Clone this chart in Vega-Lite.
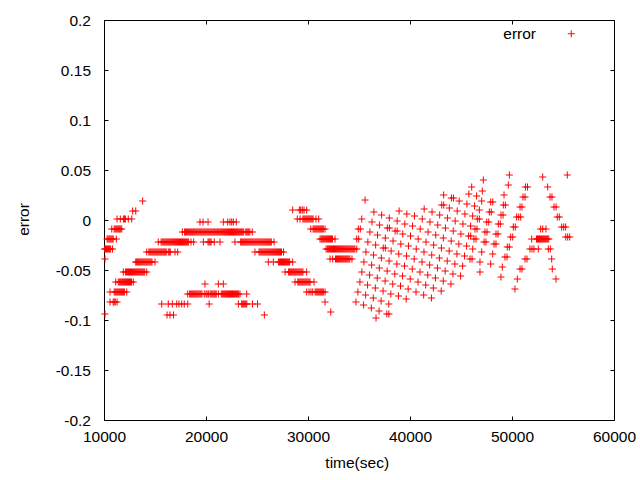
{
"$schema":"https://vega.github.io/schema/vega-lite/v6.json",
"width":510,"height":400,
"autosize":{"type":"none"},
"padding":{"left":104,"top":20,"right":26,"bottom":60},
"background":"#ffffff",
"config":{"view":{"stroke":"#000000","strokeWidth":1},
"axis":{"domain":false,"grid":false,"tickColor":"#000000","tickSize":-4,"labelColor":"#000000","titleColor":"#000000","labelFont":"Liberation Sans","labelFontSize":15.5,"titleFont":"Liberation Sans","titleFontSize":15.5,"titleFontWeight":"normal","labelFlush":false,"labelOverlap":false}},
"data":{"values":[
{"t":10050,"e":-0.029},{"t":10150,"e":-0.029},{"t":10250,"e":-0.029},{"t":10350,"e":-0.029},{"t":10450,"e":-0.029},{"t":10550,"e":-0.029},{"t":10650,"e":-0.029},{"t":10830,"e":-0.029},
{"t":10300,"e":-0.019},{"t":10400,"e":-0.019},{"t":10500,"e":-0.019},{"t":10600,"e":-0.019},{"t":10700,"e":-0.019},{"t":10800,"e":-0.019},{"t":10900,"e":-0.019},{"t":11210,"e":-0.019},
{"t":10760,"e":-0.009},{"t":11000,"e":-0.009},{"t":11100,"e":-0.009},{"t":11200,"e":-0.009},{"t":11300,"e":-0.009},{"t":11400,"e":-0.009},{"t":11500,"e":-0.009},{"t":11600,"e":-0.009},{"t":11740,"e":-0.009},
{"t":11280,"e":0.001},{"t":11600,"e":0.001},{"t":11900,"e":0.001},{"t":12000,"e":0.001},{"t":12100,"e":0.001},{"t":12380,"e":0.001},{"t":12720,"e":0.001},
{"t":12810,"e":0.009},{"t":13110,"e":0.009},{"t":13790,"e":0.019},{"t":10100,"e":-0.039},{"t":10100,"e":-0.094},
{"t":10590,"e":-0.082},{"t":10900,"e":-0.082},{"t":11000,"e":-0.082},{"t":11100,"e":-0.082},{"t":11280,"e":-0.082},
{"t":10590,"e":-0.072},{"t":11000,"e":-0.072},{"t":11100,"e":-0.072},{"t":11200,"e":-0.072},{"t":11300,"e":-0.072},{"t":11400,"e":-0.072},{"t":11500,"e":-0.072},{"t":11600,"e":-0.072},{"t":11700,"e":-0.072},{"t":11800,"e":-0.072},{"t":11900,"e":-0.072},{"t":12000,"e":-0.072},{"t":12230,"e":-0.072},
{"t":11150,"e":-0.062},{"t":11400,"e":-0.062},{"t":11500,"e":-0.062},{"t":11600,"e":-0.062},{"t":11700,"e":-0.062},{"t":11800,"e":-0.062},{"t":11900,"e":-0.062},{"t":12000,"e":-0.062},{"t":12100,"e":-0.062},{"t":12200,"e":-0.062},{"t":12300,"e":-0.062},{"t":12400,"e":-0.062},{"t":12500,"e":-0.062},{"t":12600,"e":-0.062},{"t":12700,"e":-0.062},{"t":12870,"e":-0.062},
{"t":11890,"e":-0.052},{"t":12100,"e":-0.052},{"t":12200,"e":-0.052},{"t":12300,"e":-0.052},{"t":12400,"e":-0.052},{"t":12500,"e":-0.052},{"t":12600,"e":-0.052},{"t":12700,"e":-0.052},{"t":12800,"e":-0.052},{"t":12900,"e":-0.052},{"t":13000,"e":-0.052},{"t":13100,"e":-0.052},{"t":13200,"e":-0.052},{"t":13300,"e":-0.052},{"t":13400,"e":-0.052},{"t":13500,"e":-0.052},{"t":13600,"e":-0.052},{"t":13700,"e":-0.052},{"t":13800,"e":-0.052},{"t":13900,"e":-0.052},{"t":14000,"e":-0.052},{"t":14190,"e":-0.052},
{"t":13110,"e":-0.042},{"t":13200,"e":-0.042},{"t":13300,"e":-0.042},{"t":13400,"e":-0.042},{"t":13500,"e":-0.042},{"t":13600,"e":-0.042},{"t":13700,"e":-0.042},{"t":13800,"e":-0.042},{"t":13900,"e":-0.042},{"t":14000,"e":-0.042},{"t":14100,"e":-0.042},{"t":14200,"e":-0.042},{"t":14300,"e":-0.042},{"t":14400,"e":-0.042},{"t":14500,"e":-0.042},{"t":14600,"e":-0.042},{"t":14700,"e":-0.042},{"t":15000,"e":-0.042},
{"t":14190,"e":-0.032},{"t":14400,"e":-0.032},{"t":14500,"e":-0.032},{"t":14600,"e":-0.032},{"t":14700,"e":-0.032},{"t":14800,"e":-0.032},{"t":14900,"e":-0.032},{"t":15000,"e":-0.032},{"t":15100,"e":-0.032},{"t":15200,"e":-0.032},{"t":15300,"e":-0.032},{"t":15400,"e":-0.032},{"t":15500,"e":-0.032},{"t":15600,"e":-0.032},{"t":15700,"e":-0.032},{"t":15800,"e":-0.032},{"t":15900,"e":-0.032},{"t":16000,"e":-0.032},{"t":16100,"e":-0.032},{"t":16300,"e":-0.032},{"t":16400,"e":-0.032},{"t":16500,"e":-0.032},{"t":16960,"e":-0.032},{"t":17230,"e":-0.032},
{"t":15320,"e":-0.022},{"t":15600,"e":-0.022},{"t":15700,"e":-0.022},{"t":15800,"e":-0.022},{"t":15900,"e":-0.022},{"t":16000,"e":-0.022},{"t":16100,"e":-0.022},{"t":16200,"e":-0.022},{"t":16300,"e":-0.022},{"t":16400,"e":-0.022},{"t":16500,"e":-0.022},{"t":16600,"e":-0.022},{"t":16700,"e":-0.022},{"t":16800,"e":-0.022},{"t":16900,"e":-0.022},{"t":17000,"e":-0.022},{"t":17100,"e":-0.022},{"t":17200,"e":-0.022},{"t":17300,"e":-0.022},{"t":17400,"e":-0.022},{"t":17500,"e":-0.022},{"t":17600,"e":-0.022},{"t":17700,"e":-0.022},{"t":17800,"e":-0.022},{"t":17900,"e":-0.022},{"t":18000,"e":-0.022},{"t":18100,"e":-0.022},{"t":18200,"e":-0.022},{"t":18300,"e":-0.022},
{"t":18530,"e":-0.022},{"t":18790,"e":-0.022},{"t":19740,"e":-0.022},{"t":20200,"e":-0.022},{"t":20300,"e":-0.022},{"t":20400,"e":-0.022},{"t":20500,"e":-0.022},{"t":20810,"e":-0.022},{"t":21370,"e":-0.022},{"t":22840,"e":-0.022},
{"t":23400,"e":-0.022},{"t":23500,"e":-0.022},{"t":23600,"e":-0.022},{"t":23700,"e":-0.022},{"t":23800,"e":-0.022},{"t":23900,"e":-0.022},{"t":24000,"e":-0.022},{"t":24100,"e":-0.022},{"t":24200,"e":-0.022},{"t":24300,"e":-0.022},{"t":24400,"e":-0.022},{"t":24500,"e":-0.022},{"t":24600,"e":-0.022},{"t":24700,"e":-0.022},{"t":24800,"e":-0.022},{"t":24900,"e":-0.022},{"t":25000,"e":-0.022},{"t":25100,"e":-0.022},{"t":25200,"e":-0.022},{"t":25300,"e":-0.022},{"t":25400,"e":-0.022},{"t":25500,"e":-0.022},{"t":25600,"e":-0.022},{"t":25700,"e":-0.022},{"t":25800,"e":-0.022},{"t":25900,"e":-0.022},{"t":26000,"e":-0.022},{"t":26100,"e":-0.022},{"t":26200,"e":-0.022},{"t":26300,"e":-0.022},{"t":26400,"e":-0.022},{"t":26670,"e":-0.022},
{"t":17680,"e":-0.012},{"t":17900,"e":-0.012},{"t":18000,"e":-0.012},{"t":18100,"e":-0.012},{"t":18200,"e":-0.012},{"t":18300,"e":-0.012},{"t":18400,"e":-0.012},{"t":18500,"e":-0.012},{"t":18600,"e":-0.012},{"t":18700,"e":-0.012},{"t":18800,"e":-0.012},{"t":18900,"e":-0.012},{"t":19000,"e":-0.012},{"t":19100,"e":-0.012},{"t":19200,"e":-0.012},{"t":19300,"e":-0.012},{"t":19400,"e":-0.012},{"t":19500,"e":-0.012},{"t":19600,"e":-0.012},{"t":19700,"e":-0.012},{"t":19800,"e":-0.012},{"t":19900,"e":-0.012},{"t":20000,"e":-0.012},{"t":20100,"e":-0.012},{"t":20200,"e":-0.012},{"t":20300,"e":-0.012},{"t":20400,"e":-0.012},{"t":20500,"e":-0.012},{"t":20600,"e":-0.012},{"t":20700,"e":-0.012},{"t":20800,"e":-0.012},{"t":20900,"e":-0.012},{"t":21000,"e":-0.012},{"t":21100,"e":-0.012},{"t":21200,"e":-0.012},{"t":21300,"e":-0.012},{"t":21400,"e":-0.012},{"t":21500,"e":-0.012},{"t":21600,"e":-0.012},{"t":21700,"e":-0.012},{"t":21800,"e":-0.012},{"t":21900,"e":-0.012},{"t":22000,"e":-0.012},{"t":22100,"e":-0.012},{"t":22200,"e":-0.012},{"t":22300,"e":-0.012},{"t":22400,"e":-0.012},{"t":22500,"e":-0.012},{"t":22600,"e":-0.012},{"t":22700,"e":-0.012},{"t":22800,"e":-0.012},{"t":22900,"e":-0.012},{"t":23000,"e":-0.012},{"t":23100,"e":-0.012},{"t":23200,"e":-0.012},{"t":23300,"e":-0.012},{"t":23400,"e":-0.012},{"t":23500,"e":-0.012},{"t":23600,"e":-0.012},{"t":23700,"e":-0.012},
{"t":23900,"e":-0.012},{"t":24000,"e":-0.012},{"t":24100,"e":-0.012},{"t":24200,"e":-0.012},{"t":24300,"e":-0.012},{"t":24540,"e":-0.012},
{"t":19410,"e":-0.002},{"t":19710,"e":-0.002},{"t":20200,"e":-0.002},{"t":21700,"e":-0.002},{"t":22130,"e":-0.002},{"t":22350,"e":-0.002},{"t":22520,"e":-0.002},{"t":22680,"e":-0.002},{"t":22970,"e":-0.002},
{"t":24800,"e":-0.032},{"t":25200,"e":-0.032},{"t":25300,"e":-0.032},{"t":25400,"e":-0.032},{"t":25500,"e":-0.032},{"t":25600,"e":-0.032},{"t":25700,"e":-0.032},{"t":25800,"e":-0.032},{"t":25900,"e":-0.032},{"t":26000,"e":-0.032},{"t":26100,"e":-0.032},{"t":26200,"e":-0.032},{"t":26300,"e":-0.032},{"t":26400,"e":-0.032},{"t":26500,"e":-0.032},{"t":26600,"e":-0.032},{"t":26700,"e":-0.032},{"t":26800,"e":-0.032},{"t":26900,"e":-0.032},{"t":27000,"e":-0.032},{"t":27100,"e":-0.032},{"t":27200,"e":-0.032},{"t":27300,"e":-0.032},{"t":27400,"e":-0.032},{"t":27600,"e":-0.032},
{"t":26110,"e":-0.042},{"t":26600,"e":-0.042},{"t":27100,"e":-0.042},{"t":27200,"e":-0.042},{"t":27300,"e":-0.042},{"t":27400,"e":-0.042},{"t":27500,"e":-0.042},{"t":27600,"e":-0.042},{"t":27700,"e":-0.042},{"t":27800,"e":-0.042},{"t":27900,"e":-0.042},{"t":28000,"e":-0.042},{"t":28100,"e":-0.042},{"t":28200,"e":-0.042},{"t":28500,"e":-0.042},
{"t":27750,"e":-0.052},{"t":28100,"e":-0.052},{"t":28200,"e":-0.052},{"t":28300,"e":-0.052},{"t":28400,"e":-0.052},{"t":28500,"e":-0.052},{"t":28600,"e":-0.052},{"t":28700,"e":-0.052},{"t":28800,"e":-0.052},{"t":28900,"e":-0.052},{"t":29000,"e":-0.052},{"t":29100,"e":-0.052},{"t":29200,"e":-0.052},{"t":29300,"e":-0.052},{"t":29400,"e":-0.052},{"t":29500,"e":-0.052},{"t":29870,"e":-0.052},
{"t":28730,"e":-0.062},{"t":29000,"e":-0.062},{"t":29100,"e":-0.062},{"t":29200,"e":-0.062},{"t":29300,"e":-0.062},{"t":29400,"e":-0.062},{"t":29500,"e":-0.062},{"t":29600,"e":-0.062},{"t":29700,"e":-0.062},{"t":29800,"e":-0.062},{"t":29900,"e":-0.062},{"t":30000,"e":-0.062},{"t":30100,"e":-0.062},{"t":30200,"e":-0.062},{"t":30590,"e":-0.062},
{"t":29870,"e":-0.072},{"t":30100,"e":-0.072},{"t":30290,"e":-0.072},{"t":30460,"e":-0.072},{"t":30700,"e":-0.072},{"t":30800,"e":-0.072},{"t":30900,"e":-0.072},{"t":31000,"e":-0.072},{"t":31100,"e":-0.072},{"t":31200,"e":-0.072},{"t":31300,"e":-0.072},{"t":31400,"e":-0.072},{"t":31500,"e":-0.072},{"t":31670,"e":-0.072},
{"t":31670,"e":-0.082},{"t":32230,"e":-0.092},
{"t":19900,"e":-0.064},{"t":21210,"e":-0.064},{"t":21700,"e":-0.064},
{"t":18210,"e":-0.074},{"t":18400,"e":-0.074},{"t":18500,"e":-0.074},{"t":18600,"e":-0.074},{"t":18700,"e":-0.074},{"t":18800,"e":-0.074},{"t":18900,"e":-0.074},{"t":19000,"e":-0.074},{"t":19100,"e":-0.074},{"t":19200,"e":-0.074},{"t":19300,"e":-0.074},{"t":19400,"e":-0.074},{"t":19500,"e":-0.074},{"t":19600,"e":-0.074},{"t":19830,"e":-0.074},{"t":20000,"e":-0.074},{"t":20100,"e":-0.074},{"t":20230,"e":-0.074},
{"t":20400,"e":-0.074},{"t":20500,"e":-0.074},{"t":20600,"e":-0.074},{"t":20700,"e":-0.074},{"t":20800,"e":-0.074},{"t":20900,"e":-0.074},{"t":21000,"e":-0.074},{"t":21210,"e":-0.074},
{"t":21500,"e":-0.074},{"t":21600,"e":-0.074},{"t":21700,"e":-0.074},{"t":21800,"e":-0.074},{"t":21900,"e":-0.074},{"t":22000,"e":-0.074},{"t":22100,"e":-0.074},{"t":22200,"e":-0.074},{"t":22300,"e":-0.074},{"t":22400,"e":-0.074},{"t":22500,"e":-0.074},{"t":22600,"e":-0.074},{"t":22700,"e":-0.074},{"t":22800,"e":-0.074},{"t":22900,"e":-0.074},{"t":23000,"e":-0.074},{"t":23100,"e":-0.074},{"t":23200,"e":-0.074},{"t":23330,"e":-0.074},{"t":23990,"e":-0.074},
{"t":15660,"e":-0.084},{"t":16300,"e":-0.084},{"t":16700,"e":-0.084},{"t":17130,"e":-0.084},{"t":17350,"e":-0.084},{"t":17620,"e":-0.084},{"t":17870,"e":-0.084},{"t":18210,"e":-0.084},{"t":20310,"e":-0.084},{"t":23170,"e":-0.084},{"t":23500,"e":-0.084},{"t":23600,"e":-0.084},{"t":23700,"e":-0.084},{"t":23800,"e":-0.084},{"t":23900,"e":-0.084},{"t":24000,"e":-0.084},{"t":24560,"e":-0.084},{"t":25050,"e":-0.084},
{"t":16180,"e":-0.095},{"t":16470,"e":-0.095},{"t":16810,"e":-0.095},{"t":25720,"e":-0.095},
{"t":28500,"e":0.010},{"t":29150,"e":0.010},{"t":29280,"e":0.010},{"t":29440,"e":0.010},{"t":29610,"e":0.010},{"t":29870,"e":0.010},
{"t":28950,"e":0.001},{"t":29220,"e":0.001},{"t":29500,"e":0.001},{"t":29600,"e":0.001},{"t":29700,"e":0.001},{"t":29800,"e":0.001},{"t":29900,"e":0.001},{"t":30000,"e":0.001},{"t":30100,"e":0.001},{"t":30200,"e":0.001},{"t":30300,"e":0.001},{"t":30400,"e":0.001},{"t":30500,"e":0.001},{"t":30780,"e":0.001},{"t":31050,"e":0.001},
{"t":30270,"e":-0.009},{"t":30500,"e":-0.009},{"t":30600,"e":-0.009},{"t":30700,"e":-0.009},{"t":30800,"e":-0.009},{"t":30900,"e":-0.009},{"t":31000,"e":-0.009},{"t":31100,"e":-0.009},{"t":31200,"e":-0.009},{"t":31300,"e":-0.009},{"t":31400,"e":-0.009},{"t":31500,"e":-0.009},{"t":31670,"e":-0.009},
{"t":31180,"e":-0.019},{"t":31300,"e":-0.019},{"t":31400,"e":-0.019},{"t":31500,"e":-0.019},{"t":31600,"e":-0.019},{"t":31700,"e":-0.019},{"t":31800,"e":-0.019},{"t":31900,"e":-0.019},{"t":32000,"e":-0.019},{"t":32100,"e":-0.019},{"t":32200,"e":-0.019},{"t":32300,"e":-0.019},{"t":32400,"e":-0.019},{"t":32650,"e":-0.019},
{"t":31770,"e":-0.029},{"t":31900,"e":-0.029},{"t":32000,"e":-0.029},{"t":32100,"e":-0.029},{"t":32200,"e":-0.029},{"t":32300,"e":-0.029},{"t":32400,"e":-0.029},{"t":32500,"e":-0.029},{"t":32600,"e":-0.029},{"t":32700,"e":-0.029},{"t":32800,"e":-0.029},{"t":32900,"e":-0.029},{"t":33000,"e":-0.029},{"t":33100,"e":-0.029},{"t":33200,"e":-0.029},{"t":33300,"e":-0.029},{"t":33400,"e":-0.029},{"t":33500,"e":-0.029},{"t":33600,"e":-0.029},{"t":33700,"e":-0.029},{"t":33800,"e":-0.029},{"t":33900,"e":-0.029},{"t":34000,"e":-0.029},{"t":34100,"e":-0.029},{"t":34200,"e":-0.029},{"t":34300,"e":-0.029},{"t":34400,"e":-0.029},{"t":34500,"e":-0.029},{"t":34600,"e":-0.029},{"t":34780,"e":-0.029},
{"t":32160,"e":-0.039},{"t":32420,"e":-0.039},{"t":32700,"e":-0.039},{"t":32800,"e":-0.039},{"t":32900,"e":-0.039},{"t":33000,"e":-0.039},{"t":33100,"e":-0.039},{"t":33200,"e":-0.039},{"t":33300,"e":-0.039},{"t":33400,"e":-0.039},{"t":33500,"e":-0.039},{"t":33600,"e":-0.039},{"t":33700,"e":-0.039},{"t":33800,"e":-0.039},{"t":33900,"e":-0.039},{"t":34000,"e":-0.039},{"t":34100,"e":-0.039},{"t":34310,"e":-0.039},
{"t":35590,"e":0.020},{"t":35270,"e":0.001},{"t":34930,"e":-0.009},{"t":35130,"e":-0.009},{"t":34780,"e":-0.019},{"t":34970,"e":-0.019},
{"t":36460,"e":0.008},{"t":36270,"e":-0.002},{"t":36070,"e":-0.012},{"t":35870,"e":-0.022},{"t":35680,"e":-0.032},{"t":35480,"e":-0.042},{"t":35280,"e":-0.052},{"t":35090,"e":-0.062},{"t":34890,"e":-0.072},{"t":34700,"e":-0.082},
{"t":37220,"e":0.005},{"t":37020,"e":-0.005},{"t":36820,"e":-0.015},{"t":36630,"e":-0.025},{"t":36430,"e":-0.035},{"t":36240,"e":-0.045},{"t":36040,"e":-0.055},{"t":35840,"e":-0.065},{"t":35650,"e":-0.075},{"t":35450,"e":-0.085},
{"t":37970,"e":0.002},{"t":37780,"e":-0.008},{"t":37980,"e":-0.008},{"t":37580,"e":-0.018},{"t":37380,"e":-0.028},{"t":37580,"e":-0.028},{"t":37190,"e":-0.038},{"t":36990,"e":-0.048},{"t":36790,"e":-0.058},{"t":36600,"e":-0.068},{"t":36400,"e":-0.078},{"t":36210,"e":-0.088},{"t":36670,"e":-0.098},
{"t":38930,"e":0.009},{"t":38740,"e":-0.001},{"t":38540,"e":-0.011},{"t":38740,"e":-0.011},{"t":38340,"e":-0.021},{"t":38150,"e":-0.031},{"t":37950,"e":-0.041},{"t":37760,"e":-0.051},{"t":37560,"e":-0.061},{"t":37360,"e":-0.071},{"t":37170,"e":-0.081},{"t":36970,"e":-0.091},
{"t":39690,"e":0.006},{"t":39490,"e":-0.004},{"t":39290,"e":-0.014},{"t":39100,"e":-0.024},{"t":38900,"e":-0.034},{"t":38710,"e":-0.044},{"t":38510,"e":-0.054},{"t":38310,"e":-0.064},{"t":38120,"e":-0.074},{"t":37920,"e":-0.084},{"t":37730,"e":-0.094},{"t":37930,"e":-0.094},
{"t":40440,"e":0.004},{"t":40250,"e":-0.006},{"t":40050,"e":-0.016},{"t":39850,"e":-0.026},{"t":39660,"e":-0.036},{"t":39460,"e":-0.046},{"t":39270,"e":-0.056},{"t":39070,"e":-0.066},{"t":38870,"e":-0.076},
{"t":41390,"e":0.011},{"t":41200,"e":0.001},{"t":41000,"e":-0.009},{"t":40800,"e":-0.019},{"t":40610,"e":-0.029},{"t":40410,"e":-0.039},{"t":40220,"e":-0.049},{"t":40020,"e":-0.059},{"t":39820,"e":-0.069},{"t":39630,"e":-0.079},
{"t":42160,"e":0.008},{"t":41960,"e":-0.002},{"t":41770,"e":-0.012},{"t":41570,"e":-0.022},{"t":41370,"e":-0.032},{"t":41180,"e":-0.042},{"t":40980,"e":-0.052},{"t":40790,"e":-0.062},{"t":40590,"e":-0.072},
{"t":43300,"e":0.025},{"t":43110,"e":0.015},{"t":43310,"e":0.015},{"t":42910,"e":0.005},{"t":42720,"e":-0.005},{"t":42520,"e":-0.015},{"t":42320,"e":-0.025},{"t":42130,"e":-0.035},{"t":41930,"e":-0.045},{"t":41740,"e":-0.055},{"t":41540,"e":-0.065},{"t":41340,"e":-0.075},
{"t":44060,"e":0.022},{"t":44260,"e":0.022},{"t":43860,"e":0.012},{"t":43670,"e":0.002},{"t":43470,"e":-0.008},{"t":43270,"e":-0.018},{"t":43080,"e":-0.028},{"t":42880,"e":-0.038},{"t":42690,"e":-0.048},{"t":42490,"e":-0.058},{"t":42290,"e":-0.068},{"t":42100,"e":-0.078},
{"t":44820,"e":0.019},{"t":44630,"e":0.009},{"t":44430,"e":-0.001},{"t":44240,"e":-0.011},{"t":44040,"e":-0.021},{"t":43840,"e":-0.031},{"t":43650,"e":-0.041},{"t":43450,"e":-0.051},{"t":43260,"e":-0.061},{"t":43060,"e":-0.071},
{"t":45770,"e":0.026},{"t":45580,"e":0.016},{"t":45380,"e":0.006},{"t":45190,"e":-0.004},{"t":44990,"e":-0.014},{"t":44790,"e":-0.024},{"t":44600,"e":-0.034},{"t":44400,"e":-0.044},{"t":44210,"e":-0.054},{"t":44010,"e":-0.064},
{"t":46050,"e":0.033},{"t":46530,"e":0.024},{"t":46330,"e":0.014},{"t":46140,"e":0.004},{"t":45940,"e":-0.006},{"t":45750,"e":-0.016},{"t":45950,"e":-0.016},{"t":45550,"e":-0.026},{"t":45350,"e":-0.036},{"t":45160,"e":-0.046},{"t":44960,"e":-0.056},
{"t":47190,"e":0.040},{"t":49740,"e":0.045},{"t":53010,"e":0.043},{"t":55420,"e":0.045},
{"t":47090,"e":0.029},{"t":49640,"e":0.035},{"t":51520,"e":0.033},{"t":51320,"e":0.033},{"t":53500,"e":0.033},
{"t":49220,"e":0.025},{"t":51280,"e":0.023},{"t":51080,"e":0.023},{"t":53730,"e":0.023},{"t":53920,"e":0.023},
{"t":47030,"e":0.019},{"t":47910,"e":0.018},{"t":48110,"e":0.018},{"t":49150,"e":0.015},{"t":49350,"e":0.015},{"t":50790,"e":0.013},{"t":50980,"e":0.013},{"t":54120,"e":0.013},{"t":54320,"e":0.013},
{"t":46800,"e":0.010},{"t":47780,"e":0.008},{"t":47970,"e":0.008},{"t":48920,"e":0.005},{"t":49120,"e":0.005},{"t":50460,"e":0.003},{"t":50660,"e":0.003},{"t":50850,"e":0.003},{"t":54440,"e":0.003},{"t":54640,"e":0.003},
{"t":46600,"e":0.001},{"t":46800,"e":0.001},{"t":47520,"e":-0.002},{"t":47720,"e":-0.002},{"t":48660,"e":-0.004},{"t":48850,"e":-0.004},{"t":50130,"e":-0.007},{"t":50320,"e":-0.007},
{"t":52810,"e":-0.009},{"t":53010,"e":-0.009},{"t":53330,"e":-0.009},{"t":54870,"e":-0.007},{"t":55070,"e":-0.007},{"t":55260,"e":-0.007},
{"t":46370,"e":-0.009},{"t":46570,"e":-0.009},{"t":47350,"e":-0.012},{"t":47550,"e":-0.012},{"t":48430,"e":-0.014},{"t":48630,"e":-0.014},{"t":49870,"e":-0.017},{"t":50070,"e":-0.017},
{"t":51930,"e":-0.019},{"t":52400,"e":-0.019},{"t":52500,"e":-0.019},{"t":52600,"e":-0.019},{"t":52700,"e":-0.019},{"t":52800,"e":-0.019},{"t":52900,"e":-0.019},{"t":53000,"e":-0.019},{"t":53100,"e":-0.019},{"t":53200,"e":-0.019},{"t":53300,"e":-0.019},{"t":53400,"e":-0.019},{"t":53500,"e":-0.019},{"t":53600,"e":-0.019},
{"t":55270,"e":-0.017},{"t":55460,"e":-0.017},{"t":55660,"e":-0.017},
{"t":46270,"e":-0.019},{"t":46470,"e":-0.019},{"t":47260,"e":-0.022},{"t":47450,"e":-0.022},{"t":48240,"e":-0.024},{"t":48430,"e":-0.024},{"t":49540,"e":-0.027},{"t":49740,"e":-0.027},
{"t":51760,"e":-0.029},{"t":51960,"e":-0.029},{"t":52150,"e":-0.029},{"t":52580,"e":-0.029},{"t":53560,"e":-0.029},{"t":53760,"e":-0.029},{"t":46150,"e":-0.029},
{"t":47030,"e":-0.032},{"t":48110,"e":-0.034},{"t":49310,"e":-0.037},{"t":49510,"e":-0.037},{"t":51280,"e":-0.039},{"t":51470,"e":-0.039},{"t":53890,"e":-0.039},{"t":45880,"e":-0.039},{"t":46080,"e":-0.039},
{"t":46860,"e":-0.042},{"t":47910,"e":-0.044},{"t":49050,"e":-0.047},{"t":50790,"e":-0.049},{"t":50980,"e":-0.049},{"t":53950,"e":-0.049},
{"t":46860,"e":-0.052},{"t":48920,"e":-0.057},{"t":50520,"e":-0.059},{"t":54310,"e":-0.059},{"t":50290,"e":-0.069}
]},
"resolve":{"axis":{"x":"independent","y":"independent"}},
"layer":[
{"mark":{"type":"point","shape":"M-1,0H1M0,-1V1","filled":false,"size":50,"strokeWidth":1,"opacity":1},
"encoding":{
"x":{"field":"t","type":"quantitative","scale":{"domain":[10000,60000],"nice":false,"zero":false},
"axis":{"orient":"bottom","values":[10000,20000,30000,40000,50000,60000],"format":"d","labelPadding":13,"title":"time(sec)","titleX":252.7,"titleY":47,"titleBaseline":"alphabetic","titleAlign":"center"}},
"y":{"field":"e","type":"quantitative","scale":{"domain":[-0.2,0.2],"nice":false,"zero":false},
"axis":{"orient":"left","values":[-0.2,-0.15,-0.1,-0.05,0,0.05,0.1,0.15,0.2],"labelExpr":"'' + datum.value","labelPadding":17.5,"title":"error","titleX":-76,"titleY":199,"titleAngle":-90,"titleBaseline":"alphabetic","titleAlign":"center"}},
"color":{"datum":"error","type":"nominal","scale":{"range":["#ff0000"]},
"legend":{"title":null,"orient":"none","legendX":459.5,"legendY":6,"padding":0,"symbolType":"M-1,0H1M0,-1V1","symbolSize":50,"symbolStrokeWidth":1,"symbolFillColor":"transparent","symbolStrokeColor":"#ff0000","labelAlign":"right","labelOffset":-43,"labelFont":"Liberation Sans","labelFontSize":15.5,"labelColor":"#000000"}}}},
{"transform":[{"filter":"datum.t < 10100"}],
"mark":{"type":"point","opacity":0},
"encoding":{
"x":{"field":"t","type":"quantitative","axis":{"orient":"top","values":[10000,20000,30000,40000,50000,60000],"labels":false,"title":null}},
"y":{"field":"e","type":"quantitative","axis":{"orient":"right","values":[-0.2,-0.15,-0.1,-0.05,0,0.05,0.1,0.15,0.2],"labels":false,"title":null}}}}
]
}
